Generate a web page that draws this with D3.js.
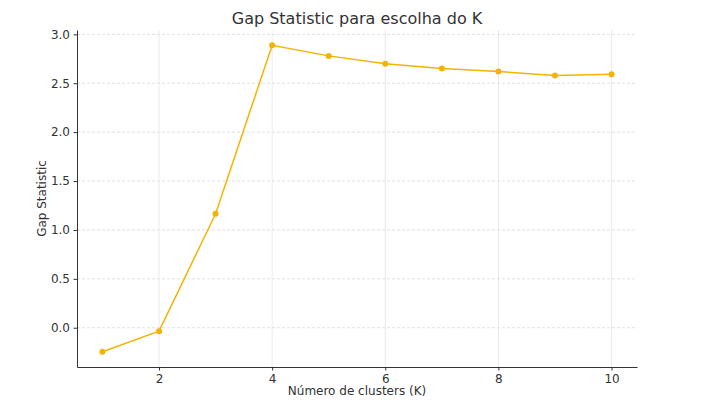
<!DOCTYPE html>
<html>
<head>
<meta charset="utf-8">
<script src="https://cdn.jsdelivr.net/npm/d3@7/dist/d3.min.js"></script>
<style>
body { margin: 0; background: #fff; }
svg text { font-family: "DejaVu Sans", sans-serif; }
</style>
</head>
<body>
<div id="chart"></div>
<script>
// valores
var kValues = [1, 2, 3, 4, 5, 6, 7, 8, 9, 10];
var gapValues = [-0.245, -0.035, 1.165, 2.888, 2.78, 2.70, 2.652, 2.62, 2.58, 2.592];
var xTicks = [2, 4, 6, 8, 10];
var yTicks = [0.0, 0.5, 1.0, 1.5, 2.0, 2.5, 3.0];

var width = 711, height = 400;
var margin = { top: 30, right: 74, bottom: 33, left: 77 };
var lineColor = "#f5b301";

var svg = d3.select("#chart").append("svg")
	.attr("width", width).attr("height", height);

// margem de 5% como no matplotlib
var xPad = (d3.max(kValues) - d3.min(kValues)) * 0.05;
var yPad = (d3.max(gapValues) - d3.min(gapValues)) * 0.05;

var x = d3.scaleLinear()
	.domain([d3.min(kValues) - xPad, d3.max(kValues) + xPad])
	.range([margin.left, width - margin.right]);
var y = d3.scaleLinear()
	.domain([d3.min(gapValues) - yPad, d3.max(gapValues) + yPad])
	.range([height - margin.bottom, margin.top]);

// grade
var grid = svg.append("g");
grid.selectAll("line.gy").data(yTicks).enter().append("line")
	.attr("x1", x.range()[0]).attr("x2", x.range()[1])
	.attr("y1", function(d){ return y(d); }).attr("y2", function(d){ return y(d); })
	.attr("stroke", "#d8d8d8").attr("stroke-width", 0.8)
	.style("stroke-dasharray", "3, 2");
grid.selectAll("line.gx").data(xTicks).enter().append("line")
	.attr("y1", y.range()[0]).attr("y2", y.range()[1])
	.attr("x1", function(d){ return x(d); }).attr("x2", function(d){ return x(d); })
	.attr("stroke", "#e4e4e4").attr("stroke-width", 0.8);

// eixos
var xAxis = svg.append("g")
	.attr("transform", "translate(0," + y.range()[0] + ")")
	.call(d3.axisBottom(x).tickValues(xTicks).tickSizeInner(3.5).tickSizeOuter(0).tickPadding(3.5).tickFormat(d3.format("d")));
var yAxis = svg.append("g")
	.attr("transform", "translate(" + x.range()[0] + ",0)")
	.call(d3.axisLeft(y).tickValues(yTicks).tickSizeInner(3.5).tickSizeOuter(0).tickPadding(3.5).tickFormat(d3.format(".1f")));

[xAxis, yAxis].forEach(function(ax){
	ax.select(".domain").attr("stroke", "#333").attr("stroke-width", 1);
	ax.selectAll(".tick line").attr("stroke", "#333");
	ax.selectAll(".tick text").attr("fill", "#333").style("font-size", "12px");
});

// linha e pontos
var line = d3.line()
	.x(function(d, i){ return x(kValues[i]); })
	.y(function(d){ return y(d); });

svg.append("path").datum(gapValues)
	.attr("d", line)
	.attr("fill", "none")
	.attr("stroke", lineColor)
	.attr("stroke-width", 1.5);

svg.selectAll("circle.pt").data(gapValues).enter().append("circle")
	.attr("cx", function(d, i){ return x(kValues[i]); })
	.attr("cy", function(d){ return y(d); })
	.attr("r", 3)
	.attr("fill", lineColor);

// textos
svg.append("text")
	.attr("x", (x.range()[0] + x.range()[1]) / 2).attr("y", 24)
	.attr("text-anchor", "middle")
	.attr("fill", "#333")
	.style("font-size", "16px")
	.text("Gap Statistic para escolha do K");

svg.append("text")
	.attr("x", (x.range()[0] + x.range()[1]) / 2).attr("y", 395)
	.attr("text-anchor", "middle")
	.attr("fill", "#333")
	.style("font-size", "12px")
	.text("Número de clusters (K)");

svg.append("text")
	.attr("transform", "translate(46," + ((y.range()[0] + y.range()[1]) / 2) + ") rotate(-90)")
	.attr("text-anchor", "middle")
	.attr("fill", "#333")
	.style("font-size", "12px")
	.text("Gap Statistic");
</script>
</body>
</html>
